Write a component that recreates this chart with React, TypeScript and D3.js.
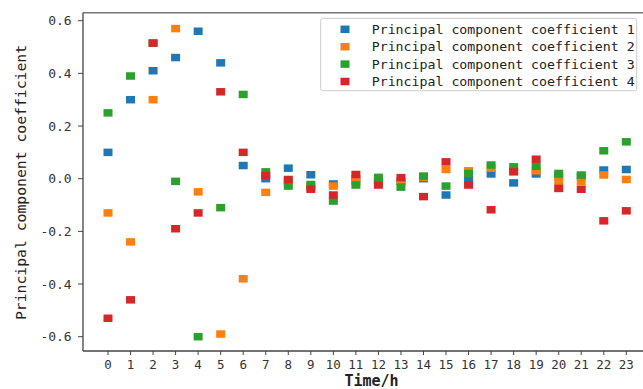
import React from "react";
import * as d3 from "d3";

const hours = d3.range(0, 24);
const seriesNames = [
  "Principal component coefficient 1",
  "Principal component coefficient 2",
  "Principal component coefficient 3",
  "Principal component coefficient 4",
];
const colors = ["#1f77b4", "#ff7f0e", "#2ca02c", "#d62728"];

const pc1 = [0.10, 0.30, 0.41, 0.46, 0.56, 0.44, 0.05, 0.00, 0.04, 0.015, -0.02, 0.00, -0.01, -0.01, 0.00, -0.062, -0.005, 0.018, -0.016, 0.018, 0.01, 0.01, 0.033, 0.035];
const pc2 = [-0.13, -0.24, 0.30, 0.57, -0.05, -0.59, -0.38, -0.052, -0.01, -0.03, -0.028, -0.01, -0.01, -0.01, 0.005, 0.035, 0.03, 0.04, 0.03, 0.03, -0.01, -0.01, 0.014, -0.003];
const pc3 = [0.25, 0.39, 0.515, -0.01, -0.60, -0.11, 0.32, 0.026, -0.028, -0.022, -0.085, -0.024, 0.005, -0.032, 0.01, -0.028, 0.02, 0.052, 0.045, 0.047, 0.02, 0.014, 0.106, 0.14];
const pc4 = [-0.53, -0.46, 0.515, -0.19, -0.13, 0.33, 0.10, 0.012, -0.003, -0.04, -0.062, 0.016, -0.024, 0.004, -0.068, 0.064, -0.024, -0.118, 0.026, 0.074, -0.037, -0.04, -0.16, -0.122];
const series = [pc1, pc2, pc3, pc4];

const yTicks = [-0.6, -0.4, -0.2, 0.0, 0.2, 0.4, 0.6];

const W = 643;
const H = 389;
const mono = "'DejaVu Sans Mono', monospace";

export default function App() {
  const x = d3.scaleLinear().domain([0, 23]).range([108, 626.3]);
  const y = d3.scaleLinear().domain([-0.6, 0.6]).range([336.7, 20.7]);
  const left = x(-1.11);
  const right = 660;
  const top = 12.7;
  const bottom = 351;
  const mw = 9;
  const mh = 7.5;

  return (
    <svg
      width={W}
      height={H}
      style={{ position: "absolute", left: 0, top: 0, background: "#fff" }}
    >
      <rect x={0} y={0} width={W} height={H} fill="#fff" />

      {/* frame */}
      <line x1={left} x2={right} y1={top} y2={top} stroke="#777" strokeWidth={1.5} />
      <line x1={left} x2={left} y1={top} y2={bottom} stroke="#444" strokeWidth={1.3} />
      <line x1={left} x2={right} y1={bottom} y2={bottom} stroke="#444" strokeWidth={1.3} />

      {/* y axis */}
      {yTicks.map((t) => (
        <g key={t}>
          <line x1={left - 5} x2={left} y1={y(t)} y2={y(t)} stroke="#444" strokeWidth={1} />
          <text
            x={71.7}
            y={y(t)}
            dy="0.35em"
            textAnchor="end"
            fontFamily={mono}
            fontSize={13}
            fill="#333"
          >
            {d3.format(".1f")(t).replace("−", "-")}
          </text>
        </g>
      ))}

      {/* x axis */}
      {hours.map((h) => (
        <g key={h}>
          <line x1={x(h)} x2={x(h)} y1={bottom} y2={bottom + 4} stroke="#444" strokeWidth={1} />
          <text
            x={x(h)}
            y={364.5}
            dy="0.35em"
            textAnchor="middle"
            fontFamily={mono}
            fontSize={12.5}
            fill="#333"
          >
            {h}
          </text>
        </g>
      ))}

      <text
        x={(left + right) / 2}
        y={381}
        dy="0.35em"
        textAnchor="middle"
        fontFamily={mono}
        fontSize={15}
        fontWeight="bold"
        fill="#222"
      >
        Time/h
      </text>
      <text
        transform={`translate(21,182.5) rotate(-90)`}
        dy="0.35em"
        textAnchor="middle"
        fontFamily={mono}
        fontSize={14.5}
        textLength={275}
        lengthAdjust="spacingAndGlyphs"
        fill="#222"
      >
        Principal component coefficient
      </text>

      {/* points */}
      {series.map((vals, si) =>
        vals.map((v, i) => (
          <rect
            key={`${si}-${i}`}
            x={x(hours[i]) - mw / 2}
            y={y(v) - mh / 2}
            width={mw}
            height={mh}
            fill={colors[si]}
          />
        ))
      )}

      {/* legend */}
      <rect x={320.7} y={18.3} width={316} height={72.4} rx={2} fill="#fff" fillOpacity={0.85} stroke="#ccc" strokeWidth={1} />
      {seriesNames.map((name, i) => {
        const cy = 29.3 + i * 17.4;
        return (
          <g key={name}>
            <rect x={345 - mw / 2} y={cy - mh / 2} width={mw} height={mh} fill={colors[i]} />
            <text
              x={371.7}
              y={cy}
              dy="0.35em"
              fontFamily={mono}
              fontSize={13}
              textLength={263}
              lengthAdjust="spacingAndGlyphs"
              fill="#222"
            >
              {name}
            </text>
          </g>
        );
      })}
    </svg>
  );
}
